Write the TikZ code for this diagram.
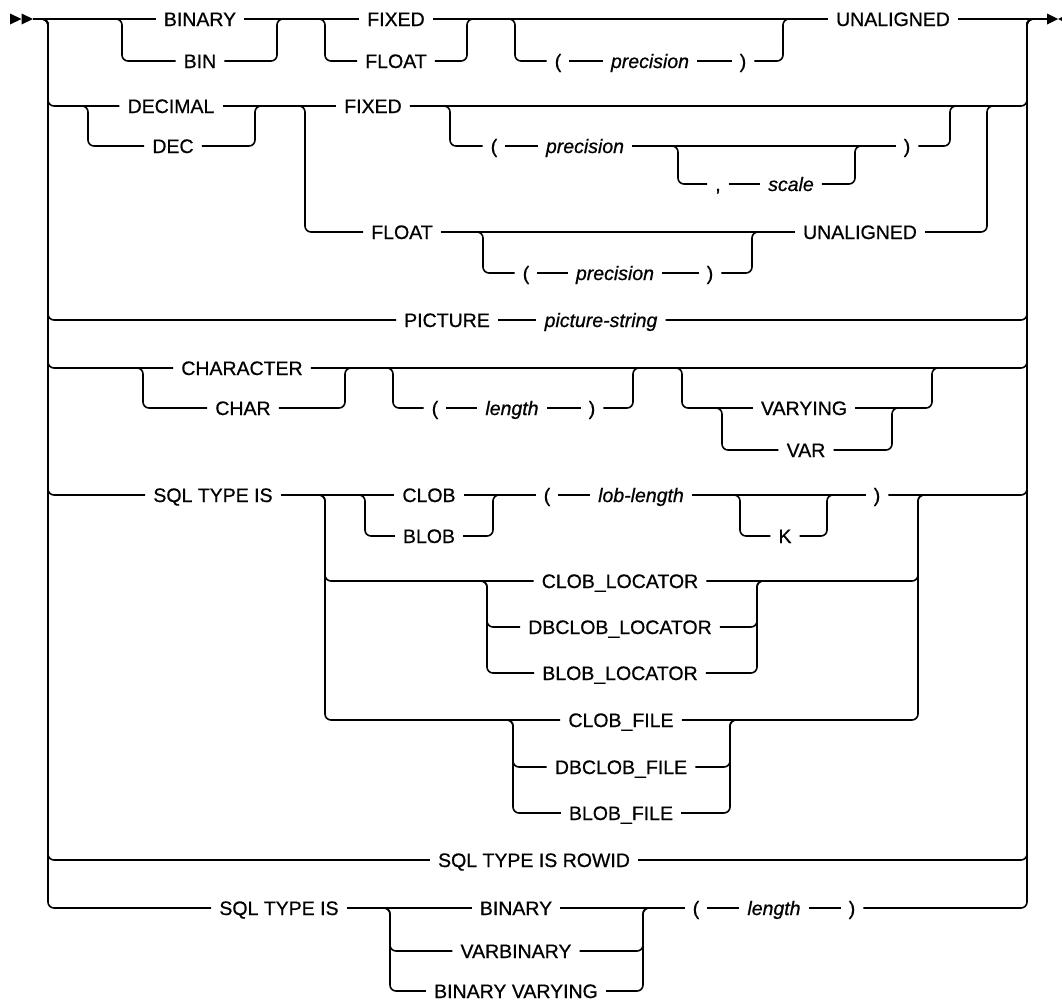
\documentclass[tikz,border=0pt]{standalone}
\usepackage{fontspec}
\setmainfont{Liberation Sans}[FakeBold=0.7]
\tikzset{
  track/.style={line width=1.6pt, rounded corners=6pt},
  rail/.style={line width=2.6pt},
  kw/.style={inner xsep=8pt, inner ysep=0pt, text height=14pt, text depth=0pt, font=\fontsize{19.5pt}{23pt}\selectfont},
  vr/.style={kw, font=\fontsize{19.5pt}{23pt}\selectfont\itshape},
  tipfill/.style={fill=black}
}
\newcommand\brdown[2]{\draw[track] ([xshift=-7pt]#1) -- (#1) |- (#2.west);}
\newcommand\brup[2]{\draw[track] (#2.east) -| (#1) -- ([xshift=7pt]#1);}
\newcommand\seg[2]{\draw[track] (#1.east) -- (#2.west);}
\begin{document}
\begin{tikzpicture}[x=1pt,y=-1pt]
\useasboundingbox (0,0) rectangle (1062,1001);
% ---------- coordinates ----------
\coordinate (startpt) at (33,19);
\coordinate (endpt) at (1047,19);
\coordinate (mL) at (48,19);
\coordinate (mLbot) at (48,908);
\coordinate (mR) at (1027,19);
\coordinate (mRbot) at (1027,908);
% row A
\coordinate (c1a) at (122,19);
\coordinate (c1b) at (277,19);
\coordinate (c2a) at (325,19);
\coordinate (c2b) at (467,19);
\coordinate (c3a) at (515,19);
\coordinate (c3b) at (783,19);
% row B/C
\coordinate (ch2L) at (88,106);
\coordinate (ch2R) at (255,106);
\coordinate (fk1) at (305,106);
\coordinate (fk1R) at (987,106);
\coordinate (o2L) at (450,106);
\coordinate (o2R) at (950,106);
\coordinate (o3L) at (678,146);
\coordinate (o3R) at (855,146);
\coordinate (o4L) at (483,232);
\coordinate (o4R) at (752,232);
% row E
\coordinate (ch5L) at (143,368);
\coordinate (ch5R) at (345,368);
\coordinate (o6L) at (393,368);
\coordinate (o6R) at (633,368);
\coordinate (o7L) at (682,368);
\coordinate (o7R) at (932,368);
\coordinate (ch7L) at (722,408);
\coordinate (ch7R) at (892,408);
% row F
\coordinate (fk2) at (325,495);
\coordinate (fk2R) at (918,495);
\coordinate (ch8L) at (365,495);
\coordinate (ch8R) at (493,495);
\coordinate (o9L) at (740,495);
\coordinate (o9R) at (827,495);
\coordinate (ch10L) at (487,581);
\coordinate (ch10R) at (757,581);
\coordinate (ch11L) at (513,720);
\coordinate (ch11R) at (730,720);
% row J
\coordinate (ch12L) at (390,908);
\coordinate (ch12R) at (643,908);
% ---------- nodes ----------
\node[kw] (binary) at (200,19) {BINARY};
\node[kw] (bin) at (200,61) {BIN};
\node[kw] (fixedA) at (396,19) {FIXED};
\node[kw] (floatA) at (396,61) {FLOAT};
\node[kw] (lpA) at (558,61) {(};
\node[vr] (precA) at (650,61) {precision};
\node[kw] (rpA) at (743,61) {)};
\node[kw] (unalA) at (893,19) {UNALIGNED};

\node[kw] (decimal) at (171,106) {DECIMAL};
\node[kw] (dec) at (173,146) {DEC};
\node[kw] (fixedB) at (373,106) {FIXED};
\node[kw] (lpB) at (494,146) {(};
\node[vr] (precB) at (585,146) {precision};
\node[kw] (rpB) at (907,146) {)};
\node[kw] (comma) at (718,184) {,};
\node[vr] (scale) at (791,184) {scale};
\node[kw] (floatB) at (402,232) {FLOAT};
\node[kw] (lpC) at (526,273) {(};
\node[vr] (precC) at (615,273) {precision};
\node[kw] (rpC) at (710,273) {)};
\node[kw] (unalB) at (860,232) {UNALIGNED};

\node[kw] (picture) at (447,320) {PICTURE};
\node[vr] (picstr) at (601,320) {picture-string};

\node[kw] (character) at (242,368) {CHARACTER};
\node[kw] (char) at (243,408) {CHAR};
\node[kw] (lpE) at (435,408) {(};
\node[vr] (lenE) at (512,408) {length};
\node[kw] (rpE) at (592,408) {)};
\node[kw] (varying) at (804,408) {VARYING};
\node[kw] (var) at (806,450) {VAR};

\node[kw] (sqlA) at (213,495) {SQL TYPE IS};
\node[kw] (clob) at (429,495) {CLOB};
\node[kw] (blob) at (429,536) {BLOB};
\node[kw] (lpF) at (547,495) {(};
\node[vr] (loblen) at (641,495) {lob-length};
\node[kw] (kk) at (785,536) {K};
\node[kw] (rpF) at (877,495) {)};
\node[kw] (cloc) at (620,581) {CLOB\_LOCATOR};
\node[kw] (dloc) at (620,627) {DBCLOB\_LOCATOR};
\node[kw] (bloc) at (620,673) {BLOB\_LOCATOR};
\node[kw] (cfile) at (621,720) {CLOB\_FILE};
\node[kw] (dfile) at (621,767) {DBCLOB\_FILE};
\node[kw] (bfile) at (621,813) {BLOB\_FILE};
\node[kw] (rowid) at (534,860) {SQL TYPE IS ROWID};
\node[kw] (sqlB) at (279,908) {SQL TYPE IS};
\node[kw] (binB) at (516,908) {BINARY};
\node[kw] (varbin) at (516,951) {VARBINARY};
\node[kw] (binvar) at (516,991) {BINARY VARYING};
\node[kw] (lpJ) at (696,908) {(};
\node[vr] (lenJ) at (774,908) {length};
\node[kw] (rpJ) at (852,908) {)};
% ---------- start / end marks ----------
\fill[tipfill] (10,13.5) -- (21.5,19) -- (10,24.5) -- cycle;
\fill[tipfill] (21.5,13.5) -- (33,19) -- (21.5,24.5) -- cycle;
\fill[tipfill] (1047,13.5) -- (1058,19) -- (1047,24.5) -- cycle;
\fill[tipfill] (1069,13.5) -- (1058,19) -- (1069,24.5) -- cycle;
% ---------- main rails ----------
\draw[rail] ([yshift=-6pt]mL) -- ([yshift=6pt]mLbot);
\draw[rail] ([yshift=-6pt]mR) -- ([yshift=6pt]mRbot);
\brdown{mL}{decimal}
\brdown{mL}{picture}
\brdown{mL}{character}
\brdown{mL}{sqlA}
\brdown{mL}{rowid}
\brdown{mL}{sqlB}
\brup{mR}{fixedB}
\brup{mR}{picstr}
\brup{mR}{character}
\brup{mR}{rpF}
\brup{mR}{rowid}
\brup{mR}{rpJ}
% ---------- row A ----------
\draw[track] (startpt) -- (binary.west);
\seg{binary}{fixedA}
\seg{fixedA}{unalA}
\draw[track] (unalA.east) -- (endpt);
\brdown{c1a}{bin} \brup{c1b}{bin}
\brdown{c2a}{floatA} \brup{c2b}{floatA}
\brdown{c3a}{lpA} \seg{lpA}{precA} \seg{precA}{rpA} \brup{c3b}{rpA}
% ---------- row B / C ----------
\brdown{ch2L}{dec} \brup{ch2R}{dec}
\seg{decimal}{fixedB}
\brdown{fk1}{floatB}
\brdown{o2L}{lpB} \seg{lpB}{precB} \seg{precB}{rpB} \brup{o2R}{rpB}
\brdown{o3L}{comma} \seg{comma}{scale} \brup{o3R}{scale}
\seg{floatB}{unalB} \brup{fk1R}{unalB}
\brdown{o4L}{lpC} \seg{lpC}{precC} \seg{precC}{rpC} \brup{o4R}{rpC}
% ---------- row D ----------
\seg{picture}{picstr}
% ---------- row E ----------
\brdown{ch5L}{char} \brup{ch5R}{char}
\brdown{o6L}{lpE} \seg{lpE}{lenE} \seg{lenE}{rpE} \brup{o6R}{rpE}
\brdown{o7L}{varying} \brup{o7R}{varying}
\brdown{ch7L}{var} \brup{ch7R}{var}
% ---------- row F ----------
\seg{sqlA}{clob}
\brdown{fk2}{cloc} \brdown{fk2}{cfile}
\brdown{ch8L}{blob} \brup{ch8R}{blob}
\seg{clob}{lpF} \seg{lpF}{loblen} \seg{loblen}{rpF}
\brdown{o9L}{kk} \brup{o9R}{kk}
\brup{fk2R}{cloc} \brup{fk2R}{cfile}
\brdown{ch10L}{dloc} \brdown{ch10L}{bloc}
\brup{ch10R}{dloc} \brup{ch10R}{bloc}
\brdown{ch11L}{dfile} \brdown{ch11L}{bfile}
\brup{ch11R}{dfile} \brup{ch11R}{bfile}
% ---------- row J ----------
\seg{sqlB}{binB}
\brdown{ch12L}{varbin} \brdown{ch12L}{binvar}
\brup{ch12R}{varbin} \brup{ch12R}{binvar}
\seg{binB}{lpJ} \seg{lpJ}{lenJ} \seg{lenJ}{rpJ}
\end{tikzpicture}
\end{document}
